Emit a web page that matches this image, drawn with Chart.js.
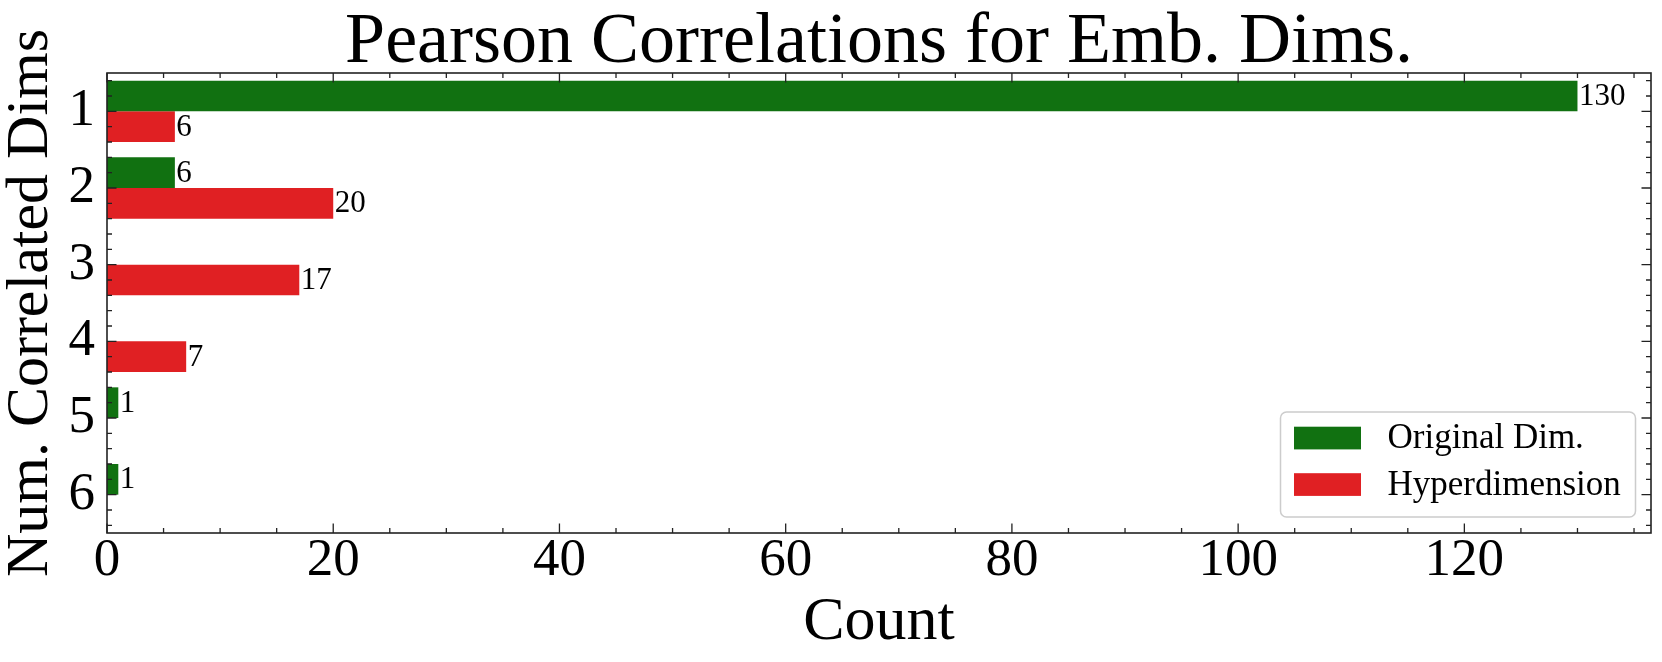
<!DOCTYPE html>
<html><head><meta charset="utf-8">
<script src="https://cdn.jsdelivr.net/npm/chart.js@4.4.1/dist/chart.umd.min.js"></script>
<style>html,body{margin:0;padding:0;background:#fff;} #wrap{width:1662px;height:662px;}</style>
</head><body>
<div id="wrap"><canvas id="c" width="1662" height="662"></canvas></div>
<script>
const categories = ['1', '2', '3', '4', '5', '6'];
const originalDim = [130, 6, 0, 0, 1, 1];
const hyperdimension = [6, 20, 17, 7, 0, 0];
const seriesNames = ['Original Dim.', 'Hyperdimension'];
const xMajorTicks = [0, 20, 40, 60, 80, 100, 120];
const xMinorStep = 5;
const yMinorStep = 0.2;
const xMax = 136.5;
const titleText = 'Pearson Correlations for Emb. Dims.';
const xTitle = 'Count';
const yTitle = 'Num. Correlated Dims';

const FONT = "'Liberation Serif', 'Times New Roman', serif";
const GREEN = '#117111';
const RED = '#e02023';
const AXIS = '#222222';

const frameTicks = {
  id: 'frameTicks',
  afterDraw(chart) {
    const {ctx, chartArea: a, scales: {x, y}} = chart;
    ctx.save();
    ctx.strokeStyle = AXIS;
    ctx.lineWidth = 1.6;
    ctx.strokeRect(a.left, a.top, a.right - a.left, a.bottom - a.top);
    ctx.lineWidth = 1.3;
    const MAJ = 9.5, MIN = 5;
    ctx.beginPath();
    for (let k = 0; k * xMinorStep <= xMax; k++) {
      const v = k * xMinorStep;
      const px = x.getPixelForValue(v);
      const L = xMajorTicks.includes(v) ? MAJ : MIN;
      ctx.moveTo(px, a.bottom); ctx.lineTo(px, a.bottom - L);
      ctx.moveTo(px, a.top); ctx.lineTo(px, a.top + L);
    }
    const per = Math.round(1 / yMinorStep);
    for (let k = -2; k <= (categories.length - 1) * per + 2; k++) {
      const v = k / per;
      const py = y.getPixelForValue(v);
      const L = (k % per === 0) ? MAJ : MIN;
      ctx.moveTo(a.left, py); ctx.lineTo(a.left + L, py);
      ctx.moveTo(a.right, py); ctx.lineTo(a.right - L, py);
    }
    ctx.stroke();
    ctx.restore();
  }
};

const valueLabels = {
  id: 'valueLabels',
  afterDatasetsDraw(chart) {
    const ctx = chart.ctx;
    ctx.save();
    ctx.font = '31px ' + FONT;
    ctx.fillStyle = '#000';
    ctx.textAlign = 'left';
    ctx.textBaseline = 'middle';
    chart.data.datasets.forEach((ds, i) => {
      const meta = chart.getDatasetMeta(i);
      meta.data.forEach((bar, j) => {
        const v = ds.data[j];
        if (!v) return;
        ctx.fillText(String(v), bar.x + 1.5, bar.y + 1);
      });
    });
    ctx.restore();
  }
};

const boxLegend = {
  id: 'boxLegend',
  afterDraw(chart) {
    const {ctx, chartArea: a} = chart;
    const w = 355, h = 105;
    const bx = a.right - 15.5 - w, by = a.bottom - 16 - h;
    ctx.save();
    ctx.beginPath();
    ctx.roundRect(bx, by, w, h, 6);
    ctx.fillStyle = 'rgba(255,255,255,0.9)';
    ctx.fill();
    ctx.lineWidth = 1.5;
    ctx.strokeStyle = '#cccccc';
    ctx.stroke();
    ctx.font = '35px ' + FONT;
    ctx.textAlign = 'left';
    ctx.textBaseline = 'middle';
    chart.data.datasets.forEach((ds, i) => {
      const cy = by + 26 + i * 46.5;
      ctx.fillStyle = ds.backgroundColor;
      ctx.fillRect(bx + 13.5, cy - 11.3, 67, 22.7);
      ctx.fillStyle = '#000';
      ctx.fillText(ds.label, bx + 107, cy + 1);
    });
    ctx.restore();
  }
};

new Chart(document.getElementById('c'), {
  type: 'bar',
  data: {
    labels: categories,
    datasets: [
      {label: seriesNames[0], data: originalDim, backgroundColor: GREEN, categoryPercentage: 0.8, barPercentage: 1.0, borderWidth: 0},
      {label: seriesNames[1], data: hyperdimension, backgroundColor: RED, categoryPercentage: 0.8, barPercentage: 1.0, borderWidth: 0}
    ]
  },
  options: {
    indexAxis: 'y',
    responsive: false,
    animation: false,
    devicePixelRatio: 1,
    layout: {padding: {left: 0, right: 11, top: 0, bottom: 0}},
    plugins: {
      legend: {display: false},
      tooltip: {enabled: false},
      title: {
        display: true, text: titleText, color: '#000', fullSize: false,
        font: {family: FONT, size: 72, weight: 'normal', lineHeight: 0.8},
        padding: {top: 14, bottom: 1.4}
      }
    },
    scales: {
      x: {
        type: 'linear', min: 0, max: xMax, position: 'bottom',
        grid: {display: false, drawTicks: false},
        border: {display: false},
        ticks: {font: {family: FONT, size: 53, lineHeight: 1}, color: '#000', padding: 2, maxRotation: 0},
        afterBuildTicks: s => { s.ticks = xMajorTicks.map(v => ({value: v})); },
        afterFit: s => { s.height = 129; },
        title: {display: true, text: xTitle, color: '#000', font: {family: FONT, size: 62, lineHeight: 1}, padding: {top: 0, bottom: 8}}
      },
      y: {
        type: 'category', position: 'left',
        grid: {display: false, drawTicks: false},
        border: {display: false},
        ticks: {font: {family: FONT, size: 53, lineHeight: 1}, color: '#000', padding: 12},
        afterFit: s => { s.width = 107; },
        title: {display: true, text: yTitle, color: '#000', font: {family: FONT, size: 60, lineHeight: 1}, padding: {top: 1, bottom: 0}}
      }
    }
  },
  plugins: [frameTicks, valueLabels, boxLegend]
});
</script>
</body></html>
